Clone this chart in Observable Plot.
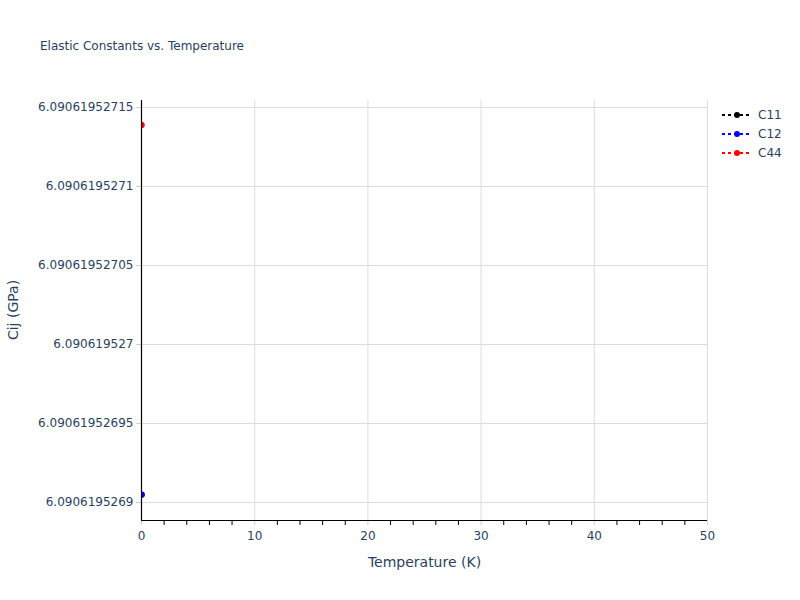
<!DOCTYPE html>
<html>
<head>
<meta charset="utf-8">
<script src="https://cdn.jsdelivr.net/npm/d3@7"></script>
<script src="https://cdn.jsdelivr.net/npm/@observablehq/plot@0.6"></script>
<style>
  html, body { margin: 0; padding: 0; background: #fff; }
  #wrap { position: relative; width: 800px; height: 600px; font-family: "DejaVu Sans", Verdana, sans-serif; color: #2a3f5f; }
  #title { position: absolute; left: 40px; top: 39px; font-size: 12px; white-space: nowrap; }
  #legend { position: absolute; left: 721px; top: 105px; font-size: 12px; }
  .row { height: 19px; display: flex; align-items: center; }
  .row svg { margin-right: 5px; }
</style>
</head>
<body>
<div id="wrap">
  <div id="chart"></div>
  <div id="title">Elastic Constants vs. Temperature</div>
  <div id="legend"></div>
</div>
<script>
// Data
const series = ["C11", "C12", "C44"];
const colors = ["black", "blue", "red"];
const temperature = [0];
const c11 = [6.090619526905];
const c12 = [6.090619526905];
const c44 = [6.090619527139];

// Tick labels
const xTicks = [0, 10, 20, 30, 40, 50];
const xMinorTicks = [2, 4, 6, 8, 12, 14, 16, 18, 22, 24, 26, 28, 32, 34, 36, 38, 42, 44, 46, 48];
const yTicks = [6.0906195269, 6.09061952695, 6.090619527, 6.09061952705, 6.0906195271, 6.09061952715];

const rows = [];
[c11, c12, c44].forEach((vals, si) => {
  vals.forEach((v, i) => rows.push({series: series[si], T: temperature[i], C: v}));
});

const yFmt = d => d3.format(".12~g")(d);

const chart = Plot.plot({
  width: 800,
  height: 600,
  marginLeft: 141,
  marginRight: 93,
  marginTop: 100,
  marginBottom: 80,
  style: {fontFamily: "DejaVu Sans, Verdana, sans-serif", fontSize: "12px", color: "#2a3f5f", background: "white"},
  x: {domain: [0, 50]},
  y: {domain: [6.09061952688861, 6.09061952715443]},
  color: {domain: series, range: colors},
  marks: [
    Plot.gridX(xTicks, {stroke: "#dcdcdc", strokeOpacity: 1}),
    Plot.gridY(yTicks, {stroke: "#dcdcdc", strokeOpacity: 1}),
    Plot.axisX(xMinorTicks, {tickSize: 5, stroke: "black", text: null, label: null}),
    Plot.axisX(xTicks, {tickSize: 5, stroke: "#cfcfcf", tickPadding: 6, fill: "#2a3f5f", fontSize: 12,
      label: "Temperature (K)", labelAnchor: "center", labelArrow: "none", labelOffset: 46}),
    Plot.axisY(yTicks, {tickSize: 5, stroke: "#cfcfcf", tickPadding: 3, tickFormat: yFmt, fill: "#2a3f5f", fontSize: 12,
      label: null}),
    Plot.dot(rows, {x: "T", y: "C", fill: "series", r: 3.2, clip: true}),
    Plot.ruleX([0], {stroke: "black", strokeWidth: 1.2}),
    Plot.ruleY([6.09061952688861], {stroke: "black", strokeWidth: 1.2})
  ]
});
document.getElementById("chart").appendChild(chart);

// y-axis title & x-axis title font tweaks
const svg = d3.select(chart);
svg.append("text")
  .attr("transform", "translate(14,310) rotate(-90)")
  .attr("text-anchor", "middle")
  .attr("dominant-baseline", "middle")
  .attr("fill", "#2a3f5f")
  .style("font-size", "14px")
  .text("Cij (GPa)");
svg.selectAll("[aria-label='x-axis label'] text").style("font-size", "14px");

// Legend
const legend = d3.select("#legend");
series.forEach((s, i) => {
  const row = legend.append("div").attr("class", "row");
  const sv = row.append("svg").attr("width", 32).attr("height", 12);
  sv.append("line").attr("x1", 1).attr("x2", 31).attr("y1", 6).attr("y2", 6)
    .attr("stroke", colors[i]).attr("stroke-width", 2).attr("stroke-dasharray", "3,3");
  sv.append("circle").attr("cx", 16).attr("cy", 6).attr("r", 3).attr("fill", colors[i]);
  row.append("span").text(s);
});
</script>
</body>
</html>
